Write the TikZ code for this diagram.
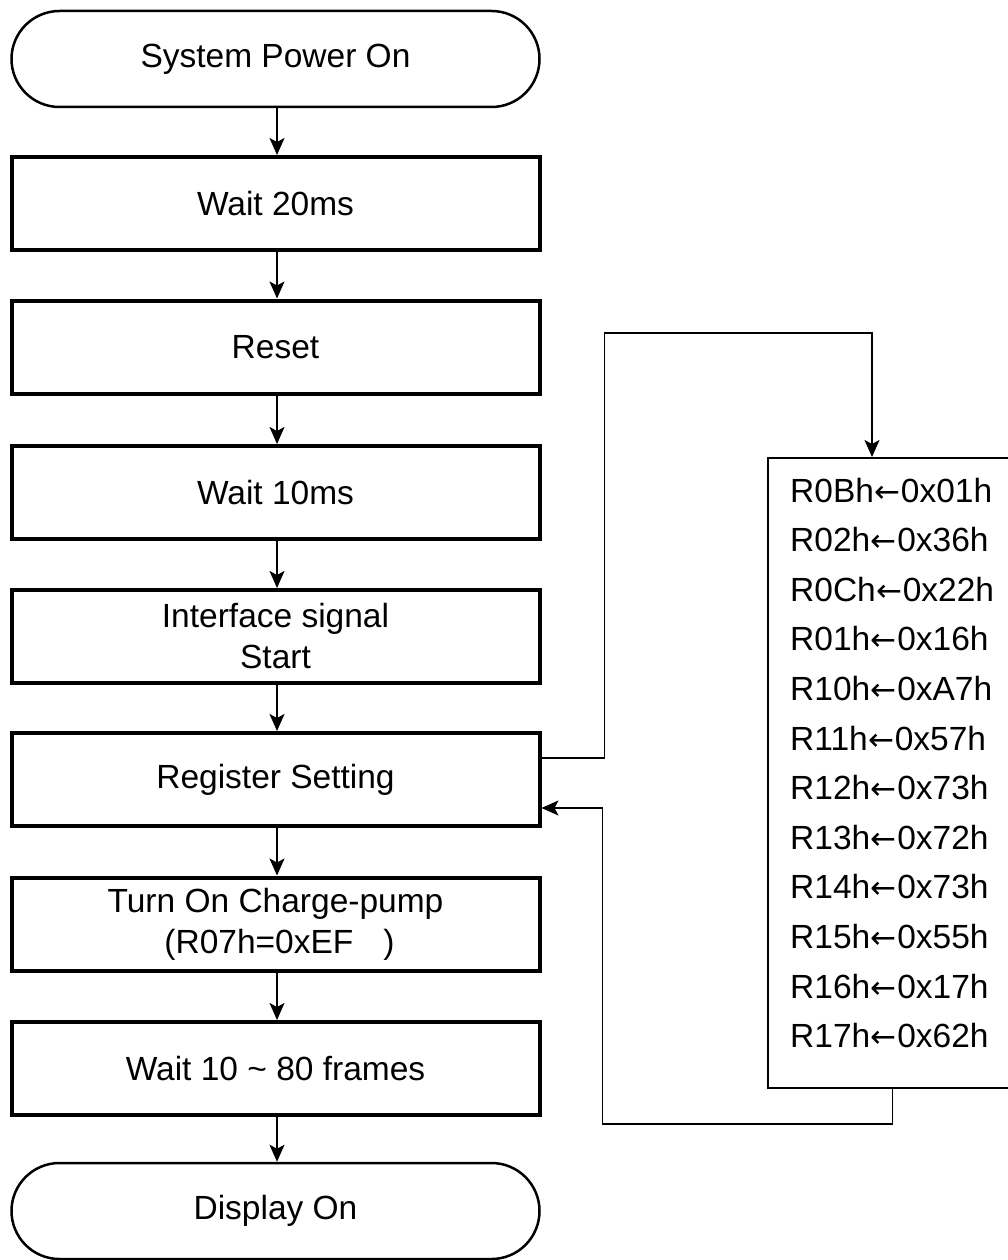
\documentclass[tikz,border=0pt]{standalone}
\usepackage{fontspec}
\setmainfont{Liberation Sans}
\newfontfamily\arrowfont{DejaVu Sans}
\newcommand{\larr}{{\arrowfont\fontsize{31}{41}\selectfont\kern0.5pt←\kern0.5pt}}
\usetikzlibrary{arrows.meta}
\begin{document}
\begin{tikzpicture}[x=1pt,y=-1pt,
  every node/.style={font=\fontsize{33.5}{41}\selectfont},
  procbox/.style={draw,line width=4pt,minimum width=528pt,minimum height=93pt,inner sep=0pt,align=center},
  termbox/.style={draw,line width=2.5pt,rounded corners=48pt,minimum width=528pt,minimum height=96pt,inner sep=0pt,align=center},
  panelbox/.style={draw,line width=2pt,minimum width=249pt,minimum height=630pt,inner sep=0pt},
  reglbl/.style={inner sep=0pt,anchor=base west},
  arr/.style={line width=1.8pt,-{Stealth[length=17pt,width=15pt,inset=4pt]}}
]
\useasboundingbox[fill=white] (0,0) rectangle (1007,1260);
\node[termbox] (start) at (275.5,59) {System Power On};
\node[procbox] (w20) at (275.5,203.5) {Wait 20ms};
\node[procbox] (reset) at (275.5,347) {Reset};
\node[procbox] (w10) at (275.5,492.5) {Wait 10ms};
\node[procbox] (intf) at (275.5,636.5) {Interface signal\\Start};
\node[procbox] (reg) at (275.5,779.5) {Register Setting};
\node[procbox] (pump) at (275.5,924) {Turn On Charge-pump\\\hspace{8pt}(R07h=0xEF\hspace{30pt})};
\node[procbox] (frames) at (275.5,1068.5) {Wait 10 \textasciitilde{} 80 frames};
\node[termbox] (disp) at (275.5,1211) {Display On};

\foreach \a/\b in {start/w20,w20/reset,reset/w10,w10/intf,intf/reg,reg/pump,pump/frames,frames/disp}
  \draw[arr] ([xshift=1.5pt]\a.south) -- ([xshift=1.5pt]\b.north);

\node[panelbox] (panel) at (892.5,773) {};
\foreach \p/\q [count=\i from 0] in {R0Bh/0x01h,R02h/0x36h,R0Ch/0x22h,R01h/0x16h,R10h/0xA7h,R11h/0x57h,R12h/0x73h,R13h/0x72h,R14h/0x73h,R15h/0x55h,R16h/0x17h,R17h/0x62h}
  \node[reglbl] (r\i) at (790,{502+49.6*\i}) {\p\larr\q};

\draw[arr] ([yshift=21.5pt]reg.east) -- ++(63,0) -- ++(0,-425) -| ([xshift=-20.5pt]panel.north);
\draw[arr] (panel.south) -- ++(0,35) -- ++(-290,0) |- ([yshift=-28.5pt]reg.east);
\end{tikzpicture}
\end{document}
